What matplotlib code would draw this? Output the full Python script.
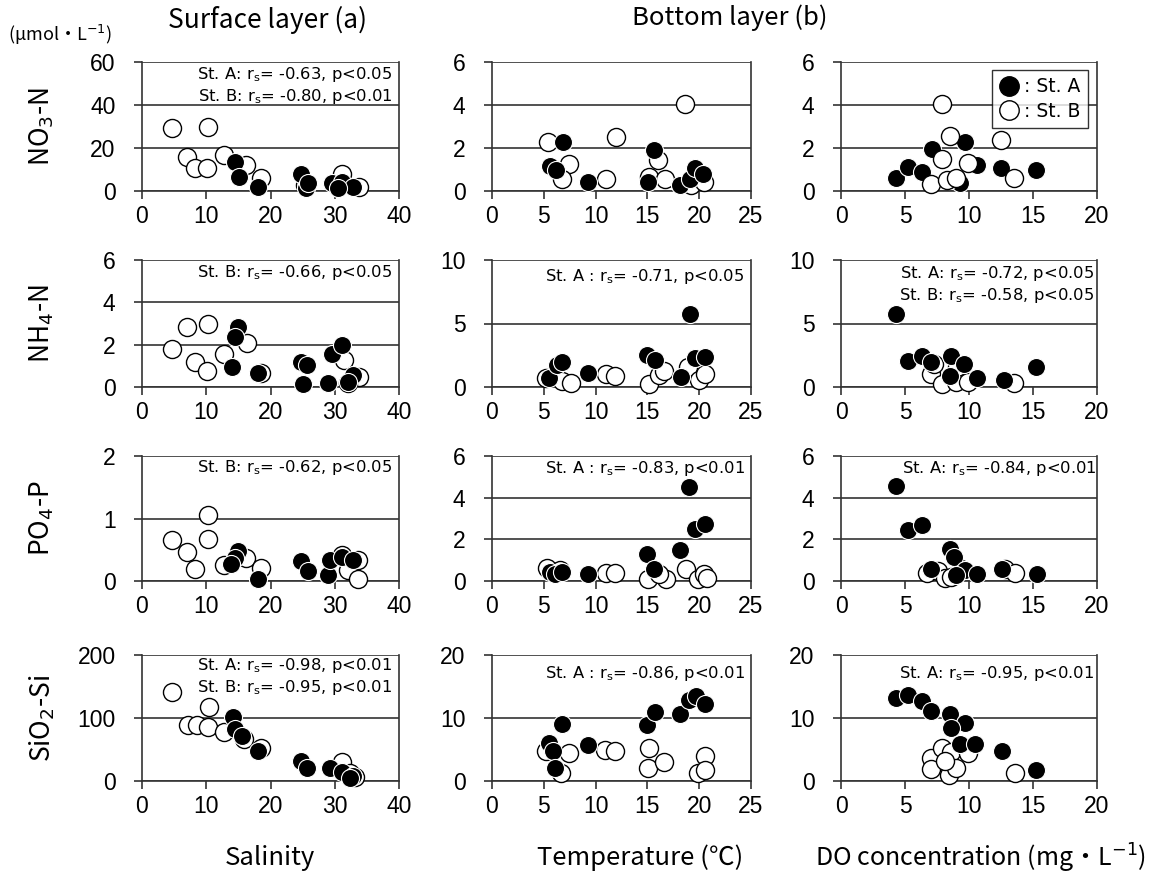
import matplotlib
matplotlib.use("Agg")
import matplotlib.pyplot as plt
from matplotlib.lines import Line2D

plt.rcParams['font.family'] = ['Liberation Sans', 'DejaVu Sans']
plt.rcParams['mathtext.fontset'] = 'dejavusans'

# ---------------- data ----------------
# Row 1: NO3-N
no3_sal_A_x = [14.5, 15.1, 18.0, 24.8, 25.5, 25.9, 29.5, 31.1, 32.9, 30.5]
no3_sal_A_y = [13.3, 6.7, 2.0, 7.8, 1.2, 3.6, 3.6, 4.3, 2.0, 1.5]
no3_sal_B_x = [4.7, 10.2, 7.0, 8.2, 10.1, 12.8, 16.2, 18.5, 31.1, 33.7, 25.3]
no3_sal_B_y = [29.4, 29.9, 16.0, 10.9, 10.9, 16.7, 12.1, 5.9, 7.8, 2.0, 3.0]

no3_tem_A_x = [5.6, 6.2, 6.9, 9.3, 15.1, 15.6, 18.1, 19.1, 19.6, 20.4]
no3_tem_A_y = [1.16, 0.96, 2.3, 0.43, 0.43, 1.9, 0.27, 0.58, 1.08, 0.8]
no3_tem_B_x = [5.4, 7.4, 6.8, 11.0, 12.0, 15.2, 16.0, 16.7, 18.6, 19.2, 20.5]
no3_tem_B_y = [2.3, 1.27, 0.58, 0.58, 2.5, 0.65, 1.43, 0.54, 4.05, 0.3, 0.4]

no3_do_A_x = [4.28, 5.26, 6.3, 7.1, 9.7, 10.6, 12.5, 15.2, 9.3, 8.4]
no3_do_A_y = [0.62, 1.11, 0.9, 1.94, 2.3, 1.2, 1.05, 0.96, 0.38, 0.5]
no3_do_B_x = [7.86, 8.5, 12.5, 7.86, 9.94, 13.5, 7.0, 8.3, 9.0]
no3_do_B_y = [4.04, 2.56, 2.36, 1.47, 1.32, 0.62, 0.34, 0.49, 0.62]

# Row 2: NH4-N
nh4_sal_A_x = [15.0, 14.4, 14.0, 18.0, 24.8, 25.7, 25.0, 29.0, 29.5, 31.1, 32.8, 32.1]
nh4_sal_A_y = [2.82, 2.34, 0.96, 0.67, 1.19, 1.04, 0.14, 0.2, 1.56, 1.98, 0.57, 0.25]
nh4_sal_B_x = [4.7, 7.0, 10.2, 8.2, 10.1, 12.8, 16.3, 18.5, 31.4, 33.7, 32.1]
nh4_sal_B_y = [1.78, 2.84, 3.0, 1.19, 0.77, 1.56, 2.06, 0.67, 1.27, 0.49, 0.17]

nh4_tem_A_x = [5.5, 6.3, 6.8, 9.3, 15.0, 15.7, 18.2, 19.1, 19.6, 20.6]
nh4_tem_A_y = [0.67, 1.72, 1.98, 1.11, 2.52, 2.12, 0.75, 5.77, 2.25, 2.38]
nh4_tem_B_x = [5.2, 6.8, 7.6, 11.0, 11.9, 15.2, 16.1, 16.6, 18.9, 20.0, 20.6]
nh4_tem_B_y = [0.67, 0.48, 0.32, 1.03, 0.85, 0.21, 0.93, 1.27, 1.54, 0.59, 1.0]

nh4_do_A_x = [4.28, 5.2, 6.3, 7.0, 8.6, 9.6, 8.5, 10.6, 12.7, 15.2]
nh4_do_A_y = [5.74, 2.06, 2.44, 1.98, 2.44, 1.85, 0.85, 0.67, 0.59, 1.54]
nh4_do_B_x = [7.0, 7.86, 9.0, 9.9, 13.5, 7.3, 9.1]
nh4_do_B_y = [1.0, 0.27, 0.4, 0.4, 0.32, 1.8, 1.6]

# Row 3: PO4-P
po4_sal_A_x = [15.0, 14.5, 13.9, 18.0, 24.8, 25.9, 29.0, 29.3, 31.1, 32.8]
po4_sal_A_y = [0.48, 0.37, 0.27, 0.04, 0.32, 0.16, 0.1, 0.34, 0.38, 0.33]
po4_sal_B_x = [4.7, 7.0, 8.2, 10.2, 10.2, 12.8, 16.2, 18.5, 31.1, 32.1, 33.6, 33.6]
po4_sal_B_y = [0.66, 0.47, 0.2, 1.05, 0.67, 0.26, 0.37, 0.21, 0.42, 0.18, 0.04, 0.34]

po4_tem_A_x = [5.6, 6.1, 6.8, 9.3, 15.0, 15.6, 18.1, 19.0, 19.6, 20.6]
po4_tem_A_y = [0.43, 0.32, 0.43, 0.32, 1.28, 0.59, 1.49, 4.53, 2.48, 2.72]
po4_tem_B_x = [5.3, 6.6, 11.0, 11.9, 15.1, 16.8, 16.1, 18.7, 19.9, 20.5, 20.8]
po4_tem_B_y = [0.64, 0.53, 0.37, 0.37, 0.11, 0.11, 0.32, 0.59, 0.11, 0.35, 0.15]

po4_do_A_x = [4.28, 5.26, 6.3, 8.5, 8.8, 7.07, 9.7, 10.6, 12.6, 15.3, 9.0]
po4_do_A_y = [4.57, 2.46, 2.7, 1.56, 1.14, 0.56, 0.51, 0.35, 0.56, 0.35, 0.29]
po4_do_B_x = [6.7, 7.6, 8.1, 8.6, 12.8, 13.6, 9.4]
po4_do_B_y = [0.4, 0.48, 0.16, 0.19, 0.6, 0.4, 0.6]

# Row 4: SiO2-Si
si_sal_A_x = [14.2, 14.5, 15.6, 18.1, 24.8, 25.7, 29.2, 31.1, 32.8, 32.4]
si_sal_A_y = [102, 83, 71, 48, 31, 21, 20, 14, 8, 4]
si_sal_B_x = [4.7, 7.2, 8.5, 10.4, 10.2, 12.7, 15.9, 18.5, 31.1, 33.2, 32.4]
si_sal_B_y = [141, 89, 89, 118, 86, 78, 67, 52, 30, 7, 12]

si_tem_A_x = [6.8, 5.5, 5.9, 6.1, 9.3, 15.0, 15.7, 18.1, 19.0, 19.7, 20.6]
si_tem_A_y = [9.1, 6.0, 4.8, 2.0, 5.7, 8.9, 10.9, 10.7, 12.8, 13.5, 12.3]
si_tem_B_x = [5.2, 7.4, 6.7, 10.9, 11.9, 15.1, 15.2, 16.6, 19.9, 20.6, 20.6]
si_tem_B_y = [4.7, 4.4, 1.2, 5.0, 4.7, 2.1, 5.2, 3.0, 1.2, 3.9, 1.8]

si_do_A_x = [4.28, 5.26, 6.3, 7.07, 8.5, 9.7, 8.6, 9.3, 10.5, 12.6, 15.2]
si_do_A_y = [13.1, 13.7, 12.7, 11.1, 10.6, 9.2, 8.4, 5.9, 5.9, 4.8, 1.7]
si_do_B_x = [7.0, 7.9, 8.6, 9.9, 7.0, 8.4, 9.0, 13.6, 8.1]
si_do_B_y = [3.7, 5.3, 4.6, 4.5, 1.85, 0.95, 2.1, 1.3, 3.2]

row_labels = ["NO$_3$-N", "NH$_4$-N", "PO$_4$-P", "SiO$_2$-Si"]
x_labels = ["Salinity", "Temperature (℃)", "DO concentration (mg・L$^{-1}$)"]
x_limits = [40, 25, 20]
x_steps = [10, 5, 5]
y_limits = [[60, 6, 6], [6, 10, 10], [2, 6, 6], [200, 20, 20]]
y_steps = [[20, 2, 2], [2, 5, 5], [1, 2, 2], [100, 10, 10]]

RS = r"r$_\mathrm{s}$"
annotations = [
    [f"St. A: {RS}= -0.63, p<0.05\nSt. B: {RS}= -0.80, p<0.01", None, None],
    [f"St. B: {RS}= -0.66, p<0.05", f"St. A : {RS}= -0.71, p<0.05",
     f"St. A: {RS}= -0.72, p<0.05\nSt. B: {RS}= -0.58, p<0.05"],
    [f"St. B: {RS}= -0.62, p<0.05", f"St. A : {RS}= -0.83, p<0.01", f"St. A: {RS}= -0.84, p<0.01"],
    [f"St. A: {RS}= -0.98, p<0.01\nSt. B: {RS}= -0.95, p<0.01", f"St. A : {RS}= -0.86, p<0.01",
     f"St. A: {RS}= -0.95, p<0.01"],
]

panels = [
    [(no3_sal_A_x, no3_sal_A_y, no3_sal_B_x, no3_sal_B_y),
     (no3_tem_A_x, no3_tem_A_y, no3_tem_B_x, no3_tem_B_y),
     (no3_do_A_x, no3_do_A_y, no3_do_B_x, no3_do_B_y)],
    [(nh4_sal_A_x, nh4_sal_A_y, nh4_sal_B_x, nh4_sal_B_y),
     (nh4_tem_A_x, nh4_tem_A_y, nh4_tem_B_x, nh4_tem_B_y),
     (nh4_do_A_x, nh4_do_A_y, nh4_do_B_x, nh4_do_B_y)],
    [(po4_sal_A_x, po4_sal_A_y, po4_sal_B_x, po4_sal_B_y),
     (po4_tem_A_x, po4_tem_A_y, po4_tem_B_x, po4_tem_B_y),
     (po4_do_A_x, po4_do_A_y, po4_do_B_x, po4_do_B_y)],
    [(si_sal_A_x, si_sal_A_y, si_sal_B_x, si_sal_B_y),
     (si_tem_A_x, si_tem_A_y, si_tem_B_x, si_tem_B_y),
     (si_do_A_x, si_do_A_y, si_do_B_x, si_do_B_y)],
]

# ---------------- layout ----------------
W, H = 1153, 873
fig = plt.figure(figsize=(W / 100, H / 100), dpi=100)
fig.patch.set_facecolor('white')

col_px = [(142, 399), (492, 751), (841, 1097)]
row_px = [(62, 191), (260, 387), (456, 581), (655, 781)]
ann_top_px = [[65, None, None], [263, 267, 264], [458, 459, 459], [656, 664, 664]]
ann_right = [[0.975, None, None], [0.975, 0.975, 0.99], [0.975, 0.975, 1.0], [0.975, 0.975, 0.99]]

CJK = ['Noto Sans CJK JP', 'DejaVu Sans']
lc = '#333333'
ms = 13

for r in range(4):
    for c in range(3):
        x0, x1 = col_px[c]
        yt, yb = row_px[r]
        ax = fig.add_axes([x0 / W, 1 - yb / H, (x1 - x0) / W, (yb - yt) / H])
        ax.set_xlim(0, x_limits[c])
        ax.set_ylim(0, y_limits[r][c])
        ax.set_xticks(range(0, x_limits[c] + 1, x_steps[c]))
        ax.set_yticks(range(0, y_limits[r][c] + 1, y_steps[r][c]))
        ax.tick_params(axis='both', direction='out', length=6, width=1.2,
                       color=lc, labelsize=16.5)
        ax.tick_params(axis='y', pad=13)
        ax.tick_params(axis='x', pad=4)
        ax.grid(axis='y', color=lc, linewidth=1.2)
        ax.set_axisbelow(True)
        for s in ax.spines.values():
            s.set_color(lc)
            s.set_linewidth(1.2)
        ax.spines['top'].set_visible(False)
        ax_, ay_, bx_, by_ = panels[r][c]
        if r == 0 and c == 2:
            ax.plot(ax_, ay_, 'o', ms=ms, mfc='black', mec='white', mew=0.8, clip_on=False, zorder=3)
            ax.plot(bx_, by_, 'o', ms=ms, mfc='white', mec='black', mew=1.0, clip_on=False, zorder=4)
        else:
            ax.plot(bx_, by_, 'o', ms=ms, mfc='white', mec='black', mew=1.0, clip_on=False, zorder=3)
            ax.plot(ax_, ay_, 'o', ms=ms, mfc='black', mec='white', mew=0.8, clip_on=False, zorder=4)
        txt = annotations[r][c]
        if txt:
            ty = ann_top_px[r][c]
            ax.text(ann_right[r][c], (yb - ty) / (yb - yt), txt,
                    transform=ax.transAxes, ha='right', va='top', fontsize=11.8,
                    family='DejaVu Sans', linespacing=1.2, zorder=6)
        if r == 0 and c == 2:
            h1 = Line2D([], [], marker='o', ls='none', ms=14, mfc='black', mec='black')
            h2 = Line2D([], [], marker='o', ls='none', ms=14, mfc='white', mec='black')
            leg = ax.legend([h1, h2], [': St. A', ': St. B'], loc='upper right',
                            bbox_to_anchor=(0.965, 0.94), frameon=True, fancybox=False,
                            handletextpad=0.3, handlelength=1.0, borderpad=0.4,
                            labelspacing=0.3, borderaxespad=0,
                            prop={'family': 'DejaVu Sans', 'size': 13.5})
            leg.get_frame().set_edgecolor('black')
            leg.get_frame().set_linewidth(1.0)
            leg.set_zorder(7)
        if c == 0:
            fig.text(42 / W, 1 - ((yt + yb) / 2) / H, row_labels[r], rotation=90,
                     ha='center', va='center', fontsize=19, family=CJK)

fig.text(268 / W, 1 - 20 / H, "Surface layer (a)", ha='center', va='center', fontsize=19, family=CJK)
fig.text(730 / W, 1 - 18 / H, "Bottom layer (b)", ha='center', va='center', fontsize=18.5, family=CJK)
fig.text(8 / W, 1 - 35 / H, "(μmol・L$^{-1}$)", ha='left', va='center', fontsize=13, family=CJK)
xl_x = [270, 640, 980]
xl_fs = [18.5, 18.5, 18]
for c in range(3):
    fig.text(xl_x[c] / W, 1 - 858 / H, x_labels[c], ha='center', va='center', fontsize=xl_fs[c], family=CJK)

fig.savefig('out.png', dpi=100, facecolor='white')
